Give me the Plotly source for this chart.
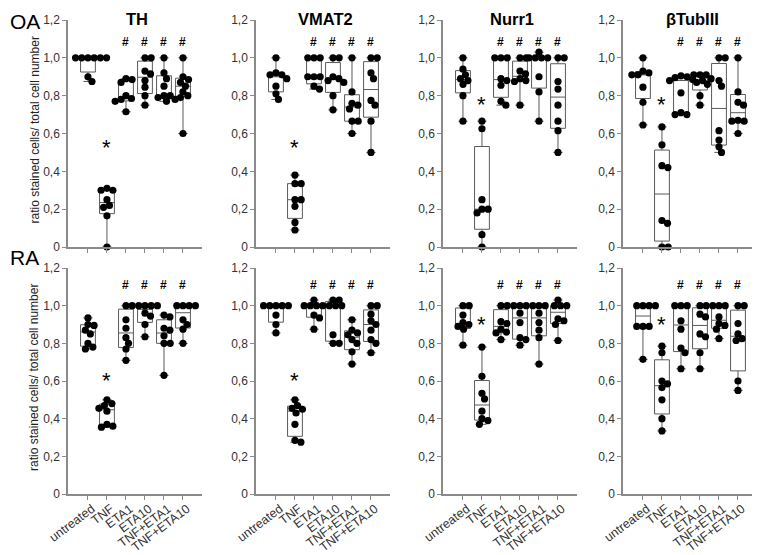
import numpy as np
import plotly.graph_objects as go

categories = ["untreated", "TNF", "ETA1", "ETA10", "TNF+ETA1", "TNF+ETA10"]
markers = ["TH", "VMAT2", "Nurr1", "βTubIII"]
row_labels = ["OA", "RA"]
ytick_vals = [0, 0.2, 0.4, 0.6, 0.8, 1.0, 1.2]
ytick_text = ["0", "0,2", "0,4", "0,6", "0,8", "1,0", "1,2"]

# ---- OA ----
oa_th = [
    [0.875, 0.90, 1, 1, 1, 1, 1, 1],
    [0, 0.165, 0.21, 0.22, 0.25, 0.30, 0.30, 0.31],
    [0.715, 0.77, 0.78, 0.785, 0.80, 0.87, 0.885, 0.89],
    [0.75, 0.80, 0.845, 0.88, 0.915, 0.93, 1.0, 1.0],
    [0.77, 0.78, 0.79, 0.80, 0.80, 0.85, 0.89, 0.92, 1.0],
    [0.60, 0.79, 0.80, 0.82, 0.85, 0.87, 0.885, 0.90, 1.0],
]
oa_vmat2 = [
    [0.78, 0.81, 0.85, 0.89, 0.91, 0.91, 0.92, 1.0],
    [0.09, 0.13, 0.215, 0.25, 0.25, 0.335, 0.335, 0.38],
    [0.835, 0.85, 0.90, 0.90, 0.90, 1, 1, 1],
    [0.725, 0.80, 0.87, 0.88, 0.89, 0.90, 1.0, 1.0],
    [0.60, 0.665, 0.665, 0.73, 0.75, 0.76, 0.82, 1.0],
    [0.50, 0.665, 0.75, 0.775, 0.89, 0.92, 1.0, 1.0],
]
oa_nurr1 = [
    [0.665, 0.80, 0.86, 0.88, 0.89, 0.91, 0.94, 1.0],
    [0, 0.065, 0.18, 0.20, 0.20, 0.25, 0.625, 0.665],
    [0.75, 0.77, 0.855, 0.88, 0.89, 1, 1, 1],
    [0.75, 0.875, 0.88, 0.89, 0.915, 0.93, 1.0, 1.0],
    [0.665, 0.82, 0.90, 1.0, 1.0, 1.0, 1.0, 1.03],
    [0.50, 0.615, 0.665, 0.75, 0.835, 0.875, 1.0, 1.0],
]
oa_btub = [
    [0.645, 0.765, 0.845, 0.91, 0.91, 0.92, 0.93, 1.0],
    [0, 0, 0.125, 0.14, 0.42, 0.43, 0.54, 0.635],
    [0.70, 0.70, 0.71, 0.815, 0.88, 0.885, 0.895, 0.90, 0.905],
    [0.75, 0.80, 0.86, 0.87, 0.88, 0.89, 0.91, 0.91, 0.91],
    [0.50, 0.53, 0.565, 0.615, 0.85, 0.88, 1.0, 1.0],
    [0.60, 0.665, 0.665, 0.67, 0.75, 0.765, 0.82, 1.0],
]
# ---- RA ----
ra_th = [
    [0.77, 0.78, 0.80, 0.85, 0.87, 0.895, 0.90, 0.935],
    [0.355, 0.36, 0.37, 0.44, 0.455, 0.47, 0.48, 0.50],
    [0.71, 0.77, 0.80, 0.83, 0.88, 0.925, 1.0, 1.0],
    [0.835, 0.90, 0.945, 0.96, 1, 1, 1, 1],
    [0.63, 0.80, 0.80, 0.84, 0.87, 0.88, 0.94, 0.95],
    [0.80, 0.875, 0.90, 0.925, 1, 1, 1, 1],
]
ra_vmat2 = [
    [0.855, 0.90, 0.95, 1, 1, 1, 1, 1],
    [0.275, 0.285, 0.37, 0.43, 0.45, 0.455, 0.47, 0.50],
    [0.875, 0.935, 0.95, 1, 1, 1, 1, 1.03],
    [0.80, 0.80, 0.845, 1.0, 1.0, 1.0, 1.03, 1.03],
    [0.69, 0.755, 0.80, 0.82, 0.845, 0.855, 0.87, 0.925],
    [0.75, 0.80, 0.82, 0.87, 0.90, 0.92, 0.955, 1.0, 1.0],
]
ra_nurr1 = [
    [0.79, 0.875, 0.89, 0.90, 0.91, 0.95, 1.0, 1.0],
    [0.37, 0.39, 0.40, 0.44, 0.505, 0.535, 0.625, 0.78],
    [0.82, 0.855, 0.86, 0.875, 0.905, 0.915, 1.0, 1.0],
    [0.79, 0.82, 0.83, 0.91, 0.96, 1, 1, 1],
    [0.69, 0.83, 0.87, 0.91, 0.96, 1, 1, 1],
    [0.815, 0.90, 0.92, 0.93, 1.0, 1.0, 1.0, 1.03],
]
ra_btub = [
    [0.715, 0.89, 0.89, 0.89, 1, 1, 1, 1],
    [0.335, 0.40, 0.50, 0.565, 0.585, 0.60, 0.75, 0.785],
    [0.665, 0.75, 0.775, 0.875, 0.92, 1, 1, 1],
    [0.665, 0.75, 0.835, 0.85, 0.94, 0.955, 1.0, 1.0],
    [0.825, 0.875, 0.895, 0.905, 0.94, 1, 1, 1],
    [0.55, 0.60, 0.815, 0.825, 0.85, 0.905, 1.0, 1.0],
]

panels = [[oa_th, oa_vmat2, oa_nurr1, oa_btub], [ra_th, ra_vmat2, ra_nurr1, ra_btub]]
star_y = [[0.55, 0.55, 0.78, 0.78], [0.63, 0.63, 0.925, 0.925]]
hash_groups = ["ETA1", "ETA10", "TNF+ETA1", "TNF+ETA10"]
hash_y = [1.085, 1.11]

# ---- layout geometry (page pixels; page body has an 8px margin) ----
OFF = 8
W, H = 760 - OFF, 555 - OFF
col_left_px = [68, 256, 443, 623]
col_w_px = 134
row_top_px = [20, 268]
row_bot_px = [247, 494]
xr = [-1.05, 6.0]
yr = [0, 1.2]
AX = "#8a8a8a"
BOXC = "#5a5a5a"
FONT = "Liberation Sans"


def px_x(p):
    return (p - OFF) / W


def px_y(p):
    return 1 - (p - OFF) / H


def swarm(vals, px_per_x, px_per_y, d):
    vals = np.asarray(vals, float)
    order = np.argsort(-vals, kind="stable")
    placed = []
    offs = np.zeros(len(vals))
    for i in order:
        y = vals[i] * px_per_y
        cands = [0.0]
        for xp, yp in placed:
            dy = abs(y - yp)
            if dy < d:
                dx = np.sqrt(d * d - dy * dy)
                cands += [xp + dx, xp - dx]
        cands.sort(key=lambda c: (round(abs(c), 6), -c))
        chosen = cands[-1]
        for c in cands:
            if all((c - xp) ** 2 + (y - yp) ** 2 >= d * d - 1e-6 for xp, yp in placed):
                chosen = c
                break
        placed.append((chosen, y))
        offs[i] = chosen / px_per_x
    return offs


fig = go.Figure()
annotations = []
layout_axes = {}

for r in range(2):
    for c in range(4):
        k = r * 4 + c + 1
        xa = "x" if k == 1 else f"x{k}"
        ya = "y" if k == 1 else f"y{k}"
        px_per_x = col_w_px / (xr[1] - xr[0])
        px_per_y = (row_bot_px[r] - row_top_px[r]) / (yr[1] - yr[0])
        data = panels[r][c]
        for i, vals in enumerate(data):
            v = np.asarray(vals, float)
            q1, med, q3 = np.percentile(v, [25, 50, 75], method="weibull")
            fig.add_trace(go.Box(
                x=[i], q1=[q1], median=[med], q3=[q3],
                lowerfence=[v.min()], upperfence=[v.max()],
                orientation="v", width=0.78, whiskerwidth=0.62,
                fillcolor="white", line=dict(color=BOXC, width=1),
                boxpoints=False, showlegend=False, hoverinfo="skip",
                xaxis=xa, yaxis=ya))
        for i, vals in enumerate(data):
            offs = swarm(vals, px_per_x, px_per_y, 6.2)
            fig.add_trace(go.Scatter(
                x=i + offs, y=vals, mode="markers",
                marker=dict(color="black", size=7.2, line=dict(width=0)),
                cliponaxis=False, showlegend=False, hoverinfo="skip",
                xaxis=xa, yaxis=ya))
        # significance marks
        annotations.append(dict(x=1, y=star_y[r][c], xref=xa, yref=ya, text="*",
                                showarrow=False, font=dict(size=22, color="black", family=FONT),
                                yanchor="middle", yshift=-5))
        for g in hash_groups:
            annotations.append(dict(x=categories.index(g), y=hash_y[r], xref=xa, yref=ya,
                                    text="<b>#</b>", showarrow=False,
                                    font=dict(size=12, color="black", family=FONT)))
        xkey = "xaxis" if k == 1 else f"xaxis{k}"
        ykey = "yaxis" if k == 1 else f"yaxis{k}"
        layout_axes[xkey] = dict(
            domain=[px_x(col_left_px[c]), min(1.0, px_x(col_left_px[c] + col_w_px))],
            range=xr, anchor=ya, showline=True, linecolor=AX,
            linewidth=1.5, ticks="outside", ticklen=4, tickcolor=AX, tickwidth=1.2,
            tickvals=list(range(len(categories))), ticktext=categories,
            showticklabels=(r == 1), tickangle=-37, showgrid=False, zeroline=False,
            ticklabelstandoff=-3, ticklabelshift=4,
            tickfont=dict(size=12.5, color="#333", family=FONT),
            automargin=False, fixedrange=True)
        layout_axes[ykey] = dict(
            domain=[px_y(row_bot_px[r]), px_y(row_top_px[r])], range=yr, anchor=xa,
            showline=True, linecolor=AX,
            linewidth=1.5, ticks="outside", ticklen=4, tickcolor=AX, tickwidth=1.2,
            tickvals=ytick_vals, ticktext=ytick_text, showgrid=False, zeroline=False,
            tickfont=dict(size=12, color="#333", family=FONT),
            automargin=False, fixedrange=True)
        if r == 0:
            annotations.append(dict(x=2.6, y=1.0, xref=xa, yref="paper",
                                    text=f"<b>{markers[c]}</b>", showarrow=False,
                                    yanchor="top", yshift=0,
                                    font=dict(size=16.5, color="black", family=FONT)))
    # row label and y title
    annotations.append(dict(x=0, y=px_y(row_top_px[r] - 8) if r == 1 else 1.0,
                            xref="paper", yref="paper",
                            text=row_labels[r], showarrow=False, xanchor="left",
                            yanchor="middle" if r == 1 else "top",
                            yshift=3 if r == 1 else 0,
                            font=dict(size=21, color="black", family=FONT)))
    annotations.append(dict(x=px_x(34), y=px_y((row_top_px[r] + row_bot_px[r]) / 2 - 3),
                            xref="paper", yref="paper",
                            text="ratio stained cells/ total cell number", textangle=-90,
                            showarrow=False, xanchor="center", yanchor="middle",
                            font=dict(size=12, color="#222", family=FONT)))

fig.update_layout(
    width=W, height=H, margin=dict(l=0, r=0, t=0, b=0),
    paper_bgcolor="white", plot_bgcolor="white", showlegend=False,
    annotations=annotations, **layout_axes)

fig.write_html("out.html")
